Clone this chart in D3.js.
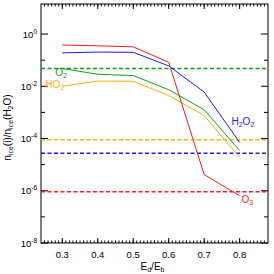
<!DOCTYPE html>
<html>
<head>
<meta charset="utf-8">
<script src="https://cdn.jsdelivr.net/npm/d3@7"></script>
<style>
  body { margin: 0; background: #fff; }
  text { font-family: "Liberation Sans", Arial, sans-serif; }
</style>
</head>
<body>
<div id="plot"></div>
<script>
// Ed/Eb values and log10 abundance relative to water ice
var energyRatio = [0.3, 0.4, 0.5, 0.6, 0.7, 0.8];
var logO3   = [-0.42, -0.45, -0.49, -1.08, -5.38, -6.19];
var logH2O2 = [-0.72, -0.69, -0.70, -1.22, -2.22, -4.15];
var logO2   = [-1.32, -1.54, -1.59, -2.13, -2.90, -4.46];
var logHO2  = [-2.00, -1.80, -1.81, -2.35, -3.12, -4.72];

// dashed reference levels (log10)
var refNames  = ["O2", "HO2", "H2O2", "O3"];
var refLevels = [-1.32, -4.05, -4.56, -6.04];

var colors = { O3: "#ff1a1a", H2O2: "#1a1aff", O2: "#11a011", HO2: "#ffb000" };

var xMajor = [0.3, 0.4, 0.5, 0.6, 0.7, 0.8];
var yMajor = [-8, -6, -4, -2, 0];
var yMinor = [-7, -5, -3, -1];

var margin = {top: 4, right: 6, bottom: 31, left: 41},
    width = 274 - margin.left - margin.right,
    height = 274 - margin.top - margin.bottom;

var svg = d3.select("#plot").append("svg")
    .attr("width", 274).attr("height", 274)
  .append("g")
    .attr("transform", "translate(" + margin.left + "," + margin.top + ")");

var x = d3.scaleLinear().domain([0.24, 0.88]).range([0, width]);
var y = d3.scaleLinear().domain([-8, 1.15]).range([height, 0]);

var xMinor = d3.range(25, 88).map(d => d / 100);

// frame
svg.append("rect")
  .attr("width", width).attr("height", height)
  .attr("fill", "none").attr("stroke", "#000").attr("stroke-width", 1);

// x ticks (inward, bottom and top)
function xTicks(vals, len) {
  svg.selectAll(null).data(vals).enter().append("line")
    .attr("x1", d => x(d)).attr("x2", d => x(d))
    .attr("y1", height).attr("y2", height - len)
    .attr("stroke", "#000");
  svg.selectAll(null).data(vals).enter().append("line")
    .attr("x1", d => x(d)).attr("x2", d => x(d))
    .attr("y1", 0).attr("y2", len)
    .attr("stroke", "#000");
}
xTicks(xMinor, 2.5);
xTicks(xMajor, 5);

function yTicks(vals, len) {
  svg.selectAll(null).data(vals).enter().append("line")
    .attr("y1", d => y(d)).attr("y2", d => y(d))
    .attr("x1", 0).attr("x2", len).attr("stroke", "#000");
  svg.selectAll(null).data(vals).enter().append("line")
    .attr("y1", d => y(d)).attr("y2", d => y(d))
    .attr("x1", width).attr("x2", width - len).attr("stroke", "#000");
}
yTicks(yMinor, 4);
yTicks(yMajor, 7);

// x tick labels
svg.selectAll(null).data(xMajor).enter().append("text")
  .attr("x", d => x(d)).attr("y", height + 15)
  .attr("text-anchor", "middle")
  .style("font-size", "9.5px")
  .text(d => d.toFixed(1));

// y tick labels 10^n
var yl = svg.selectAll(null).data(yMajor).enter().append("text")
  .attr("x", -4).attr("y", d => y(d) + 3.5)
  .attr("text-anchor", "end")
  .style("font-size", "9.5px");
yl.append("tspan").text("10");
yl.append("tspan").attr("dy", -4).style("font-size", "6.5px").text(d => d);

// axis titles
var xt = svg.append("text")
  .attr("x", width / 2 - 2).attr("y", height + 27)
  .attr("text-anchor", "middle").style("font-size", "10px");
xt.append("tspan").text("E");
xt.append("tspan").attr("dy", 2).style("font-size", "7px").text("d");
xt.append("tspan").attr("dy", -2).text("/E");
xt.append("tspan").attr("dy", 2).style("font-size", "7px").text("b");

var yt = svg.append("text")
  .attr("transform", "translate(-30," + (height / 2 + 4) + ") rotate(-90)")
  .attr("text-anchor", "middle").style("font-size", "10px");
yt.append("tspan").text("n");
yt.append("tspan").attr("dy", 2).style("font-size", "7px").text("ice");
yt.append("tspan").attr("dy", -2).text("(i)/n");
yt.append("tspan").attr("dy", 2).style("font-size", "7px").text("ice");
yt.append("tspan").attr("dy", -2).text("(H");
yt.append("tspan").attr("dy", 2).style("font-size", "7px").text("2");
yt.append("tspan").attr("dy", -2).text("O)");

// dashed reference lines
svg.selectAll(null).data(refNames).enter().append("line")
  .attr("x1", 0).attr("x2", width)
  .attr("y1", (d, i) => y(refLevels[i])).attr("y2", (d, i) => y(refLevels[i]))
  .attr("stroke", d => colors[d])
  .attr("stroke-width", 1.5)
  .attr("stroke-dasharray", "4,2.5");

// curves
var series = [
  {name: "HO2", vals: logHO2},
  {name: "O2", vals: logO2},
  {name: "H2O2", vals: logH2O2},
  {name: "O3", vals: logO3}
];
var line = d3.line().x((d, i) => x(energyRatio[i])).y(d => y(d));
svg.selectAll(null).data(series).enter().append("path")
  .attr("d", d => line(d.vals))
  .attr("fill", "none")
  .attr("stroke", d => colors[d.name])
  .attr("stroke-width", 1);

// series labels
function label(px, py, col, parts) {
  var t = svg.append("text").attr("x", px).attr("y", py)
    .style("font-size", "10px").attr("fill", col);
  parts.forEach(function(p) {
    if (p.sub) t.append("tspan").attr("dy", 2).style("font-size", "7px").text(p.s);
    else t.append("tspan").attr("dy", p.up ? -2 : 0).text(p.s);
  });
}
label(x(0.28), y(-1.62), colors.O2, [{s: "O"}, {s: "2", sub: true}]);
label(x(0.252), y(-2.08), colors.HO2, [{s: "HO"}, {s: "2", sub: true}]);
label(x(0.777), y(-3.5), colors.H2O2, [{s: "H"}, {s: "2", sub: true}, {s: "O", up: true}, {s: "2", sub: true}]);
label(x(0.805), y(-6.45), colors.O3, [{s: "O"}, {s: "3", sub: true}]);
</script>
</body>
</html>
